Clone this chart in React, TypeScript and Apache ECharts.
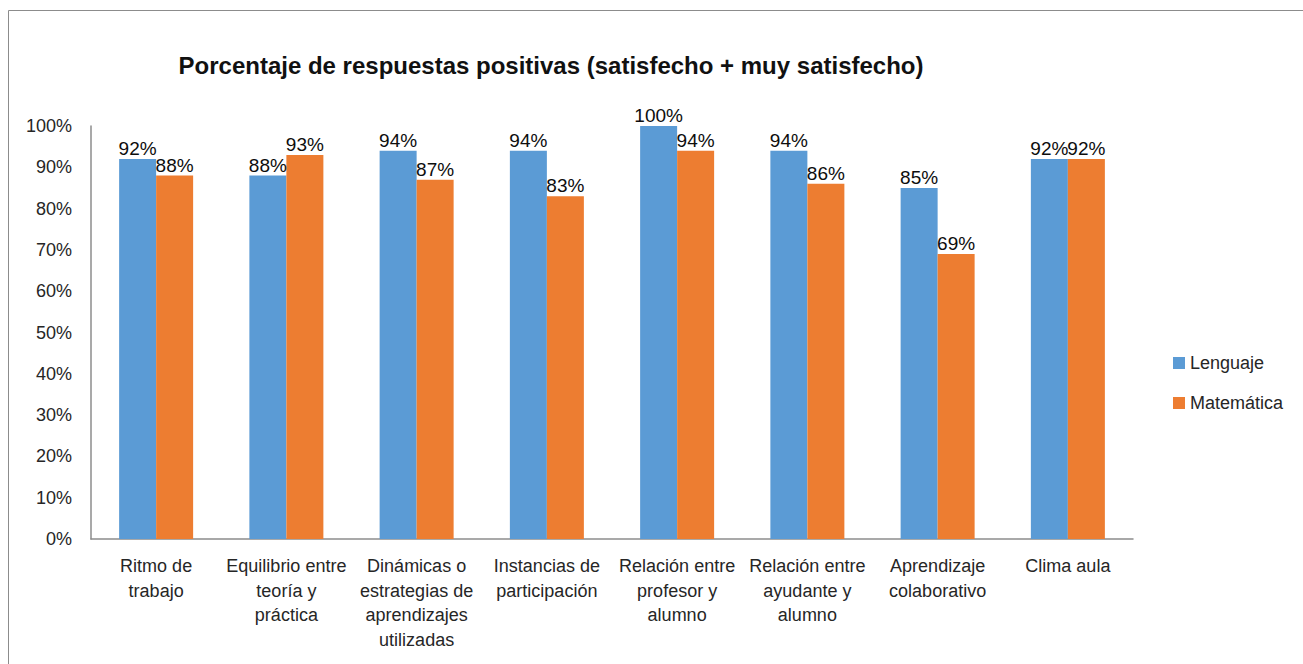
import React, { useEffect, useRef } from "react";
import * as echarts from "echarts";

const titleText = "Porcentaje de respuestas positivas (satisfecho + muy satisfecho)";
const categories = [
  "Ritmo de\ntrabajo",
  "Equilibrio entre\nteoría y\npráctica",
  "Dinámicas o\nestrategias de\naprendizajes\nutilizadas",
  "Instancias de\nparticipación",
  "Relación entre\nprofesor y\nalumno",
  "Relación entre\nayudante y\nalumno",
  "Aprendizaje\ncolaborativo",
  "Clima aula",
];
const lenguaje = [92, 88, 94, 94, 100, 94, 85, 92];
const matematica = [88, 93, 87, 83, 94, 86, 69, 92];
const seriesNames = ["Lenguaje", "Matemática"];

const FONT = "'Liberation Sans', Arial, sans-serif";
const TEXT = "#262626";

export default function App() {
  const ref = useRef<HTMLDivElement>(null);
  useEffect(() => {
    if (!ref.current) return;
    const chart = echarts.init(ref.current, undefined, { renderer: "svg" });
    const label = {
      show: true,
      position: "top" as const,
      distance: 1,
      formatter: "{c}%",
      fontSize: 19,
      fontFamily: FONT,
      color: "#0d0d0d",
    };
    chart.setOption({
      animation: false,
      backgroundColor: "#fff",
      textStyle: { fontFamily: FONT },
      title: {
        text: titleText,
        left: 546,
        top: 48,
        textAlign: "center",
        textStyle: { fontSize: 24, fontWeight: "bold", color: "#111", fontFamily: FONT },
      },
      graphic: [
        {
          type: "rect",
          shape: { x: 8.5, y: 10.5, width: 1320, height: 680 },
          style: { fill: "none", stroke: "#8c8c8c", lineWidth: 1 },
          silent: true,
        },
      ],
      legend: {
        orient: "vertical",
        left: 1168,
        top: 349,
        itemWidth: 12,
        itemHeight: 12,
        itemGap: 22,
        icon: "rect",
        textStyle: { fontSize: 18, color: TEXT, fontFamily: FONT, lineHeight: 18 },
        data: seriesNames,
      },
      grid: { left: 91, right: 170, top: 126, bottom: 125, containLabel: false },
      xAxis: {
        type: "category",
        data: categories,
        axisLine: { lineStyle: { color: "#8c8c8c", width: 1.5 } },
        axisTick: { show: false },
        axisLabel: {
          interval: 0,
          margin: 15,
          fontSize: 18,
          lineHeight: 24.5,
          color: TEXT,
          fontFamily: FONT,
          align: "center",
        },
      },
      yAxis: {
        type: "value",
        min: 0,
        max: 100,
        interval: 10,
        axisLine: { show: true, lineStyle: { color: "#8c8c8c", width: 1.5 } },
        axisTick: { show: false },
        splitLine: { show: false },
        axisLabel: {
          formatter: "{value}%",
          fontSize: 18,
          margin: 19,
          color: TEXT,
          fontFamily: FONT,
        },
      },
      series: [
        {
          name: seriesNames[0],
          type: "bar",
          data: lenguaje,
          barWidth: 37,
          barGap: "0%",
          itemStyle: { color: "#5B9BD5" },
          label,
        },
        {
          name: seriesNames[1],
          type: "bar",
          data: matematica,
          barWidth: 37,
          barGap: "0%",
          itemStyle: { color: "#ED7D31" },
          label,
        },
      ],
    });
    return () => chart.dispose();
  }, []);
  return (
    <div
      ref={ref}
      style={{ position: "fixed", left: 0, top: 0, width: 1303, height: 664, background: "#fff" }}
    />
  );
}
